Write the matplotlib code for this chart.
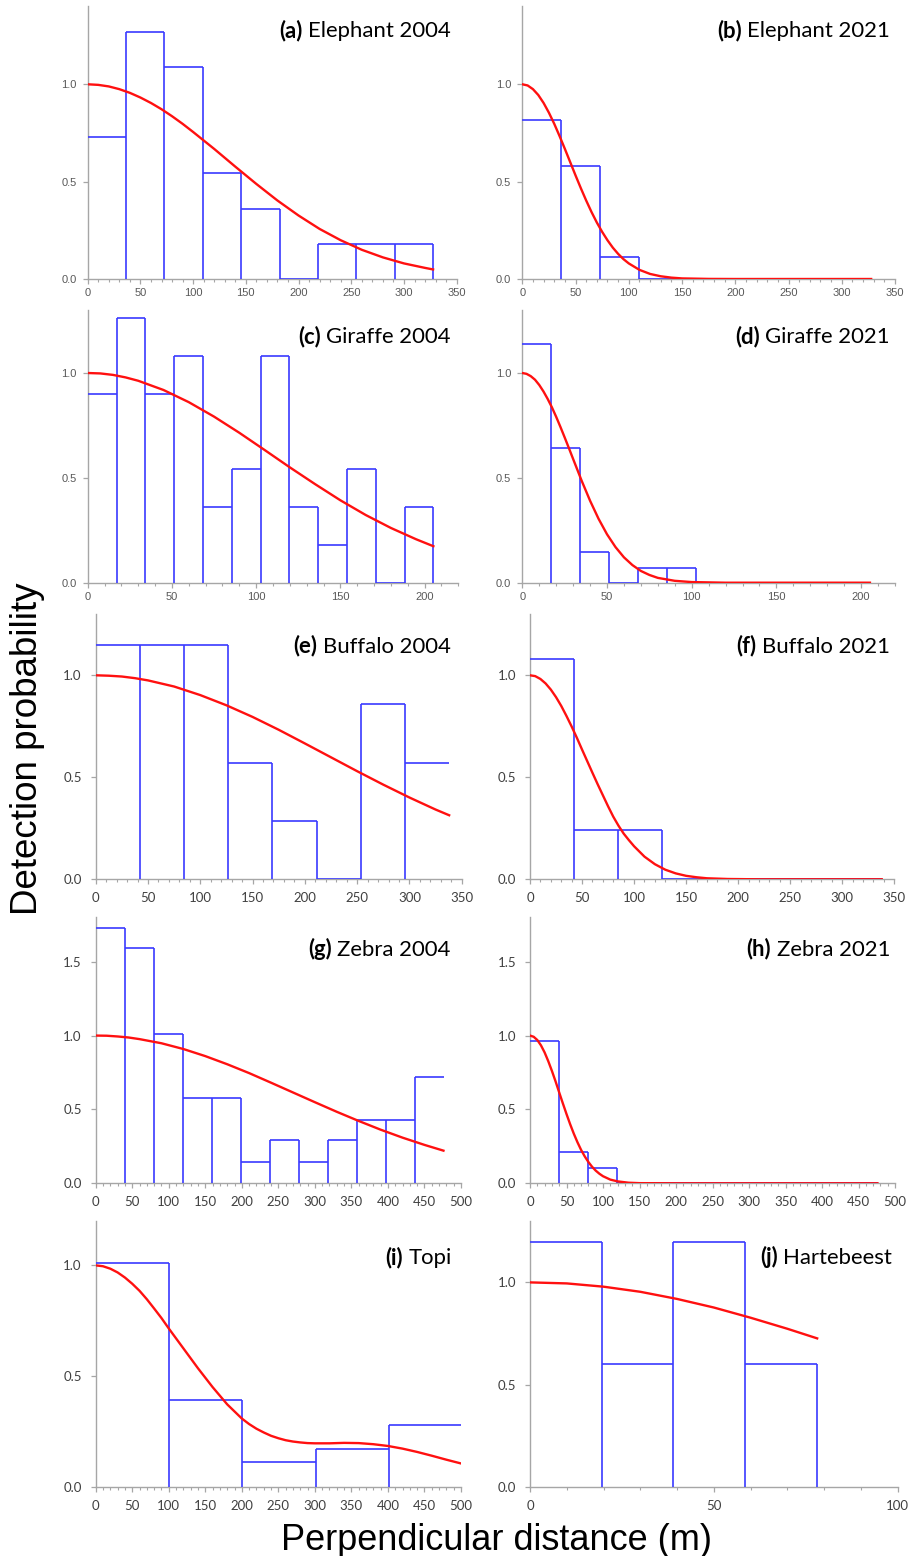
import numpy as np
import matplotlib
matplotlib.use("Agg")
import matplotlib.pyplot as plt
from matplotlib.ticker import MultipleLocator, FormatStrFormatter

W, H = 922, 1556

# ---------------- data ----------------
# (a) Elephant 2004
a_bin_width = 36.4
a_heights = [0.73, 1.27, 1.09, 0.545, 0.36, 0.0, 0.18, 0.18, 0.18]
a_curve_x = [0, 10, 20, 30, 40, 50, 60, 70, 80, 90, 100, 120, 140, 160, 180, 200, 220, 240,
             260, 280, 300, 320, 327.6]
a_curve_y = [1.000, 0.997, 0.989, 0.975, 0.956, 0.932, 0.904, 0.872, 0.836, 0.797, 0.755,
             0.668, 0.577, 0.488, 0.403, 0.326, 0.257, 0.199, 0.150, 0.111, 0.080, 0.057, 0.049]

# (b) Elephant 2021
b_bin_width = 36.4
b_heights = [0.815, 0.58, 0.115, 0.0, 0.0, 0.0, 0.0, 0.0, 0.0]
b_curve_x = [0, 5, 10, 15, 20, 25, 30, 35, 40, 45, 50, 55, 60, 65, 70, 75, 80, 85, 90, 95,
             100, 110, 120, 130, 140, 150, 175, 200, 250, 300, 327.6]
b_curve_y = [1.000, 0.994, 0.975, 0.945, 0.904, 0.854, 0.797, 0.734, 0.668, 0.600, 0.532,
             0.466, 0.403, 0.344, 0.290, 0.242, 0.199, 0.161, 0.129, 0.102, 0.080, 0.047,
             0.026, 0.014, 0.007, 0.003, 0.0005, 0.0, 0.0, 0.0, 0.0]

# (c) Giraffe 2004
c_bin_width = 17.1
c_heights = [0.90, 1.26, 0.90, 1.08, 0.36, 0.54, 1.08, 0.36, 0.18, 0.54, 0.0, 0.36]
c_curve_x = [0, 7.5, 15, 22.5, 30, 45, 60, 75, 90, 105, 120, 135, 150, 165, 180, 195, 205.2]
c_curve_y = [1.000, 0.998, 0.991, 0.979, 0.963, 0.919, 0.861, 0.792, 0.715, 0.633, 0.550,
             0.470, 0.393, 0.323, 0.261, 0.207, 0.174]

# (d) Giraffe 2021
d_bin_width = 17.1
d_heights = [1.14, 0.64, 0.145, 0.0, 0.07, 0.07, 0.0, 0.0, 0.0, 0.0, 0.0, 0.0]
d_curve_x = [0, 2.5, 5, 7.5, 10, 12.5, 15, 17.5, 20, 22.5, 25, 27.5, 30, 35, 40, 45, 50, 55,
             60, 65, 70, 75, 80, 90, 100, 120, 150, 205.2]
d_curve_y = [1.000, 0.996, 0.985, 0.968, 0.943, 0.912, 0.876, 0.836, 0.791, 0.743, 0.693,
             0.642, 0.590, 0.487, 0.391, 0.305, 0.231, 0.170, 0.121, 0.084, 0.056, 0.037,
             0.023, 0.009, 0.003, 0.0, 0.0, 0.0]

# (e) Buffalo 2004
e_bin_width = 42.25
e_heights = [1.15, 1.15, 1.15, 0.57, 0.285, 0.0, 0.86, 0.57]
e_curve_x = [0, 12.5, 25, 37.5, 50, 75, 100, 125, 150, 175, 200, 225, 250, 275, 300, 325, 338]
e_curve_y = [1.000, 0.998, 0.994, 0.986, 0.975, 0.945, 0.903, 0.853, 0.796, 0.733, 0.666,
             0.598, 0.530, 0.464, 0.401, 0.342, 0.314]

# (f) Buffalo 2021
f_bin_width = 42.25
f_heights = [1.08, 0.24, 0.24, 0.0, 0.0, 0.0, 0.0, 0.0]
f_curve_x = [0, 5, 10, 15, 20, 25, 30, 35, 40, 45, 50, 55, 60, 65, 70, 75, 80, 85, 90, 95,
             100, 110, 120, 130, 140, 150, 160, 170, 190, 220, 338]
f_curve_y = [1.000, 0.996, 0.982, 0.960, 0.930, 0.893, 0.850, 0.801, 0.749, 0.694, 0.636,
             0.579, 0.522, 0.466, 0.412, 0.358, 0.307, 0.263, 0.224, 0.192, 0.162, 0.111,
             0.074, 0.047, 0.029, 0.017, 0.010, 0.005, 0.0015, 0.0, 0.0]

# (g) Zebra 2004
g_bin_width = 39.7
g_heights = [1.73, 1.59, 1.01, 0.58, 0.58, 0.145, 0.29, 0.145, 0.29, 0.43, 0.43, 0.72]
g_curve_x = [0, 15, 30, 45, 60, 90, 120, 150, 180, 210, 240, 270, 300, 330, 360, 390, 420, 450, 476]
g_curve_y = [1.000, 0.999, 0.994, 0.987, 0.976, 0.948, 0.909, 0.861, 0.806, 0.746, 0.681,
             0.615, 0.549, 0.484, 0.422, 0.363, 0.309, 0.260, 0.221]

# (h) Zebra 2021
h_bin_width = 39.7
h_heights = [0.96, 0.21, 0.105, 0.0, 0.0, 0.0, 0.0, 0.0, 0.0, 0.0, 0.0, 0.0]
h_curve_x = [0, 5, 10, 15, 20, 25, 30, 35, 40, 45, 50, 55, 60, 65, 70, 75, 80, 85, 90, 95,
             100, 110, 120, 135, 150, 200, 476]
h_curve_y = [1.000, 0.992, 0.970, 0.934, 0.886, 0.827, 0.761, 0.690, 0.615, 0.541, 0.469,
             0.400, 0.336, 0.278, 0.226, 0.182, 0.144, 0.112, 0.086, 0.065, 0.048, 0.025,
             0.013, 0.004, 0.001, 0.0, 0.0]

# (i) Topi
i_bin_width = 100.4
i_heights = [1.01, 0.39, 0.11, 0.17, 0.28]
i_curve_x = [0, 10, 20, 30, 40, 50, 60, 70, 80, 90, 100, 120, 140, 160, 180, 200, 210, 220,
             230, 240, 250, 260, 270, 280, 290, 300, 320, 340, 360, 380, 400, 420, 440, 460,
             480, 500]
i_curve_y = [1.000, 0.996, 0.985, 0.968, 0.945, 0.917, 0.885, 0.847, 0.805, 0.762, 0.715,
             0.625, 0.535, 0.450, 0.372, 0.308, 0.283, 0.262, 0.245, 0.230, 0.219, 0.210,
             0.204, 0.200, 0.197, 0.196, 0.196, 0.198, 0.197, 0.192, 0.184, 0.172, 0.157,
             0.140, 0.122, 0.105]

# (j) Hartebeest
j_bin_width = 19.5
j_heights = [1.20, 0.60, 1.20, 0.60]
j_curve_x = [0, 10, 20, 30, 40, 50, 60, 70, 78.1]
j_curve_y = [1.000, 0.995, 0.979, 0.954, 0.919, 0.877, 0.827, 0.773, 0.726]

panel_letters = ["(a)", "(b)", "(c)", "(d)", "(e)", "(f)", "(g)", "(h)", "(i)", "(j)"]
panel_names = ["Elephant 2004", "Elephant 2021", "Giraffe 2004", "Giraffe 2021",
               "Buffalo 2004", "Buffalo 2021", "Zebra 2004", "Zebra 2021", "Topi", "Hartebeest"]

# ---------------- layout / style ----------------
BLUE = "#3a3aff"
RED = "#ff1010"
AXC = "#a6a6a6"

panels = [
    dict(hist=(a_bin_width, a_heights), curve=(a_curve_x, a_curve_y), box=(87.7, 456.7, 279.0), xmax=350, ymax=1.4, last=True, small=True, title=(450.7, 37.3), xmaj=50),
    dict(hist=(b_bin_width, b_heights), curve=(b_curve_x, b_curve_y), box=(522.3, 895.0, 279.0), xmax=350, ymax=1.4, last=True, small=True, title=(890.0, 37.3), xmaj=50),
    dict(hist=(c_bin_width, c_heights), curve=(c_curve_x, c_curve_y), box=(87.7, 458.3, 582.7), xmax=220, ymax=1.3, last=True, small=True, title=(450.7, 343.0), xmaj=50),
    dict(hist=(d_bin_width, d_heights), curve=(d_curve_x, d_curve_y), box=(522.3, 895.0, 582.7), xmax=220, ymax=1.3, last=True, small=True, title=(890.0, 343.0), xmaj=50),
    dict(hist=(e_bin_width, e_heights), curve=(e_curve_x, e_curve_y), box=(95.7, 461.7, 879.3), xmax=350, ymax=1.3, last=False, small=False, title=(450.7, 652.7), xmaj=50),
    dict(hist=(f_bin_width, f_heights), curve=(f_curve_x, f_curve_y), box=(530.0, 894.3, 879.3), xmax=350, ymax=1.3, last=True, small=False, title=(890.0, 652.7), xmaj=50),
    dict(hist=(g_bin_width, g_heights), curve=(g_curve_x, g_curve_y), box=(95.7, 461.0, 1183.3), xmax=500, ymax=1.8, last=False, small=False, title=(450.7, 955.7), xmaj=50),
    dict(hist=(h_bin_width, h_heights), curve=(h_curve_x, h_curve_y), box=(530.0, 895.0, 1183.3), xmax=500, ymax=1.8, last=True, small=False, title=(890.0, 955.7), xmaj=50),
    dict(hist=(i_bin_width, i_heights), curve=(i_curve_x, i_curve_y), box=(95.7, 461.0, 1486.7), xmax=500, ymax=1.2, last=True, small=False, title=(451.7, 1264.0), xmaj=50),
    dict(hist=(j_bin_width, j_heights), curve=(j_curve_x, j_curve_y), box=(530.0, 897.7, 1486.7), xmax=100, ymax=1.3, last=True, small=False, title=(891.7, 1264.0), xmaj=50),
]
ypix = [272.6, 272.6, 272.6, 272.6, 265.2, 265.2, 265.9, 265.9, 265.6, 265.6]

fig = plt.figure(figsize=(W / 100, H / 100), dpi=100)
renderer = fig.canvas.get_renderer()

TITLE_FONT = "Lato"
TITLE_SIZE = 15.9

for k, p in enumerate(panels):
    left, right, bottom = p["box"]
    height_px = ypix[k]
    ax = fig.add_axes([left / W, 1 - bottom / H, (right - left) / W, height_px / H])
    width, heights = p["hist"]
    heights = np.asarray(heights, dtype=float)
    edges = np.arange(len(heights) + 1) * width

    ax.hlines(heights, edges[:-1], edges[1:], colors=BLUE, lw=1.2, zorder=3)
    inner = edges[1:-1]
    vtop = np.maximum(heights[:-1], heights[1:])
    m = vtop > 0
    ax.vlines(inner[m], 0, vtop[m], colors=BLUE, lw=1.2, zorder=3)
    if p["last"] and heights[-1] > 0:
        ax.vlines([edges[-1]], 0, [heights[-1]], colors=BLUE, lw=1.2, zorder=3)

    cx, cy = p["curve"]
    ax.plot(cx, cy, color=RED, lw=1.7, zorder=4, solid_joinstyle="round")

    ax.set_xlim(0, p["xmax"])
    ax.set_ylim(0, p["ymax"])
    for s in ("top", "right"):
        ax.spines[s].set_visible(False)
    for s in ("left", "bottom"):
        ax.spines[s].set_color(AXC)
        ax.spines[s].set_linewidth(1.0)
    ax.xaxis.set_major_locator(MultipleLocator(p["xmaj"]))
    ax.xaxis.set_minor_locator(MultipleLocator(10))
    ax.yaxis.set_major_locator(MultipleLocator(0.5))
    ax.yaxis.set_major_formatter(FormatStrFormatter("%.1f"))
    ax.xaxis.set_major_formatter(FormatStrFormatter("%d"))

    if p["small"]:
        fam, fs, col, padx, pady = "Liberation Sans", 8, "#595959", 3.0, 4.5
    else:
        fam, fs, col, padx, pady = "Lato", 9.5, "#404040", 6.0, 6.5
    ax.tick_params(axis="both", which="major", direction="out", length=3.5, width=0.9,
                   color=AXC, labelcolor=col, labelsize=fs)
    ax.tick_params(axis="x", which="major", pad=padx)
    ax.tick_params(axis="y", which="major", pad=pady)
    ax.tick_params(axis="x", which="minor", direction="out", length=2.2, width=0.8, color=AXC)
    for lab in ax.get_xticklabels() + ax.get_yticklabels():
        lab.set_fontfamily(fam)
    ax.patch.set_alpha(0)

    tx, ty = p["title"]
    t_norm = fig.text(tx / W, 1 - ty / H, panel_names[k], ha="right", va="baseline",
                      fontsize=TITLE_SIZE, family=TITLE_FONT, color="black")
    bb = t_norm.get_window_extent(renderer=renderer)
    gap = 0.24 * TITLE_SIZE * 100 / 72
    fig.text((bb.x0 - gap) / W, 1 - ty / H, panel_letters[k], ha="right", va="baseline",
             fontsize=TITLE_SIZE, family=TITLE_FONT, fontweight="bold", color="black")

fig.text(27.5 / W, 1 - 748.5 / H, "Detection probability", rotation=90, ha="center", va="center",
         fontsize=26.5, family="Liberation Sans", color="black")
fig.text(496.5 / W, 1 - 1550 / H, "Perpendicular distance (m)", ha="center", va="baseline",
         fontsize=26.0, family="Liberation Sans", color="black")

fig.savefig("out.png", dpi=100)
